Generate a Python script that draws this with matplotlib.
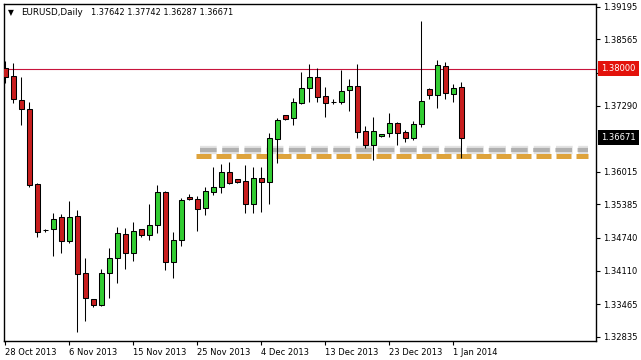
import matplotlib
matplotlib.use("Agg")
import matplotlib.pyplot as plt
import matplotlib.transforms as mtransforms
import numpy as np

# ---------------- data ----------------
symbol_title = "EURUSD,Daily"
title_values = "1.37642 1.37742 1.36287 1.36671"

opens = [1.38014, 1.37859, 1.37397, 1.37223, 1.35778, 1.34891, 1.34911, 1.35142, 1.34679, 1.35161,
         1.34063, 1.33561, 1.33446, 1.34063, 1.34352, 1.34814, 1.34448, 1.34905, 1.34795, 1.34988,
         1.35624, 1.34284, 1.34699, 1.35527, 1.35489, 1.35315, 1.35629, 1.35720, 1.36009, 1.35865,
         1.35836, 1.35398, 1.35894, 1.35822, 1.36651, 1.37102, 1.37044, 1.37345, 1.37622, 1.37834,
         1.37468, 1.37364, 1.37352, 1.37584, 1.37661, 1.36790, 1.36530, 1.36697, 1.36755, 1.36948,
         1.36774, 1.36659, 1.36925, 1.37603, 1.37487, 1.38052, 1.37507, 1.37642]
highs = [1.38148, 1.38110, 1.37840, 1.37358, 1.35797, 1.34911, 1.35219, 1.35200, 1.35450, 1.35277,
         1.34352, 1.33567, 1.34140, 1.34544, 1.34949, 1.34930, 1.35046, 1.34917, 1.35392, 1.35759,
         1.35643, 1.34853, 1.35508, 1.35576, 1.35547, 1.35720, 1.36106, 1.36163, 1.36202, 1.35874,
         1.36144, 1.36111, 1.36106, 1.36755, 1.37044, 1.37108, 1.37430, 1.37942, 1.38091, 1.38008,
         1.37653, 1.37410, 1.37975, 1.37796, 1.38091, 1.36905, 1.37063, 1.36751, 1.37140, 1.36973,
         1.36828, 1.36992, 1.38925, 1.37622, 1.38168, 1.38129, 1.37705, 1.37742]
lows = [1.37724, 1.37339, 1.36915, 1.35720, 1.34756, 1.34862, 1.34390, 1.34448, 1.34641, 1.32926,
        1.33138, 1.33413, 1.33427, 1.33581, 1.33870, 1.34140, 1.34294, 1.34762, 1.34699, 1.34834,
        1.34120, 1.33966, 1.34583, 1.35475, 1.34872, 1.35180, 1.35566, 1.35604, 1.35778, 1.35788,
        1.35219, 1.35213, 1.35238, 1.35392, 1.36177, 1.37021, 1.36909, 1.37320, 1.37364, 1.37352,
        1.37063, 1.37320, 1.37320, 1.37191, 1.36659, 1.36466, 1.36240, 1.36693, 1.36678, 1.36520,
        1.36593, 1.36626, 1.36882, 1.37422, 1.37248, 1.37410, 1.37364, 1.36287]
closes = [1.37840, 1.37416, 1.37223, 1.35759, 1.34853, 1.34882, 1.35103, 1.34679, 1.35142, 1.34043,
          1.33581, 1.33446, 1.34063, 1.34352, 1.34834, 1.34448, 1.34872, 1.34789, 1.34988, 1.35624,
          1.34275, 1.34699, 1.35470, 1.35485, 1.35296, 1.35643, 1.35720, 1.36009, 1.35797, 1.35816,
          1.35387, 1.35888, 1.35816, 1.36659, 1.37011, 1.37031, 1.37352, 1.37622, 1.37834, 1.37460,
          1.37333, 1.37362, 1.37576, 1.37667, 1.36786, 1.36520, 1.36790, 1.36747, 1.36948, 1.36755,
          1.36659, 1.36928, 1.37383, 1.37487, 1.38066, 1.37537, 1.37622, 1.36671]

date_tick_positions = [0, 8, 16, 24, 32, 40, 48, 56]
date_tick_labels = ["28 Oct 2013", "6 Nov 2013", "15 Nov 2013", "25 Nov 2013",
                    "4 Dec 2013", "13 Dec 2013", "23 Dec 2013", "1 Jan 2014"]

price_ticks = [1.39195, 1.38565, 1.37920, 1.37290, 1.36015, 1.35385,
               1.34740, 1.34110, 1.33465, 1.32835]
price_tick_labels = ["1.39195", "1.38565", "1.37920", "1.37290", "1.36015", "1.35385",
                     "1.34740", "1.34110", "1.33465", "1.32835"]

resistance_level = 1.38000
resistance_label = "1.38000"
last_price = 1.36671
last_price_label = "1.36671"

support_level = 1.36308
support_shadow_level = 1.36424
support_start = 23.84
support_end = 72.84

# ---------------- style ----------------
up_color = "#32cd32"
down_color = "#c81e1e"
font = "DejaVu Sans"
fs = 6

W, H = 641, 360
fig = plt.figure(figsize=(W / 100, H / 100), dpi=100, facecolor="white")
ax_left, ax_right, ax_top, ax_bottom = 4.3, 596.0, 4.0, 340.7
ax = fig.add_axes([ax_left / W, 1 - ax_bottom / H, (ax_right - ax_left) / W,
                   (ax_bottom - ax_top) / H])
ax.set_facecolor("white")

o = np.array(opens); h = np.array(highs); l = np.array(lows); c = np.array(closes)
x = np.arange(len(o))
colors = np.where(c >= o, up_color, down_color)

# support dashed line with grey shadow
ax.plot([support_start + 0.5, support_end], [support_shadow_level] * 2, color="#c0c0c0",
        lw=6.0, alpha=0.45, linestyle=(0, (2.0, 0.67)), zorder=1.2)
ax.plot([support_start + 0.5, support_end], [support_shadow_level] * 2, color="#909090",
        lw=3.0, alpha=0.6, linestyle=(0, (4.0, 1.33)), zorder=1.3)
ax.plot([support_start, support_end], [support_level] * 2, color="#dea33c",
        lw=3.6, linestyle=(0, (3.0, 1.0)), zorder=1.4)

# resistance line
ax.axhline(resistance_level, color="#c8143c", lw=0.8, zorder=1.5)

# candles
ax.vlines(x, l, h, color="black", lw=0.75, zorder=2)
ax.bar(x, np.abs(c - o), width=0.6, bottom=np.minimum(o, c), color=colors,
       edgecolor="black", linewidth=0.75, zorder=3)

ax.set_xlim(-0.125, (ax_right - 5.3) / 8)
ax.set_ylim(1.32758, 1.39247)

# axes styling
for s in ax.spines.values():
    s.set_color("black")
    s.set_linewidth(1.0)

ax.yaxis.tick_right()
ax.set_yticks(price_ticks)
ax.set_yticklabels(price_tick_labels, fontsize=fs, family=font)
ax.tick_params(axis="y", direction="out", length=3, width=0.8, pad=2, colors="black")

ax.set_xticks(date_tick_positions)
ax.set_xticklabels(date_tick_labels, fontsize=fs, family=font, ha="left")
ax.tick_params(axis="x", direction="out", length=3, width=0.8, pad=2.5, colors="black")

# right-side price labels
trans = mtransforms.blended_transform_factory(ax.transAxes, ax.transData)
trans_off = mtransforms.offset_copy(trans, fig=fig, x=3.8, y=0, units="points")
ax.text(1.0, resistance_level, resistance_label, transform=trans_off, ha="left", va="center",
        fontsize=fs, family=font, color="white", clip_on=False, zorder=10,
        bbox=dict(boxstyle="square,pad=0.35", fc="#e3120b", ec="none"))
ax.text(1.0, last_price, last_price_label, transform=trans_off, ha="left", va="center",
        fontsize=fs, family=font, color="white", clip_on=False, zorder=10,
        bbox=dict(boxstyle="square,pad=0.35", fc="black", ec="none"))

# title
fig.text(8.0 / W, 1 - 12.9 / H, "▼", fontsize=5.5, family=font, va="center", ha="left")
fig.text(20.7 / W, 1 - 12.7 / H, symbol_title, fontsize=6.3, family=font, va="center", ha="left")
fig.text(90.7 / W, 1 - 12.7 / H, title_values, fontsize=5.9, family=font, va="center", ha="left")

fig.savefig("out.png", dpi=100, facecolor="white")
